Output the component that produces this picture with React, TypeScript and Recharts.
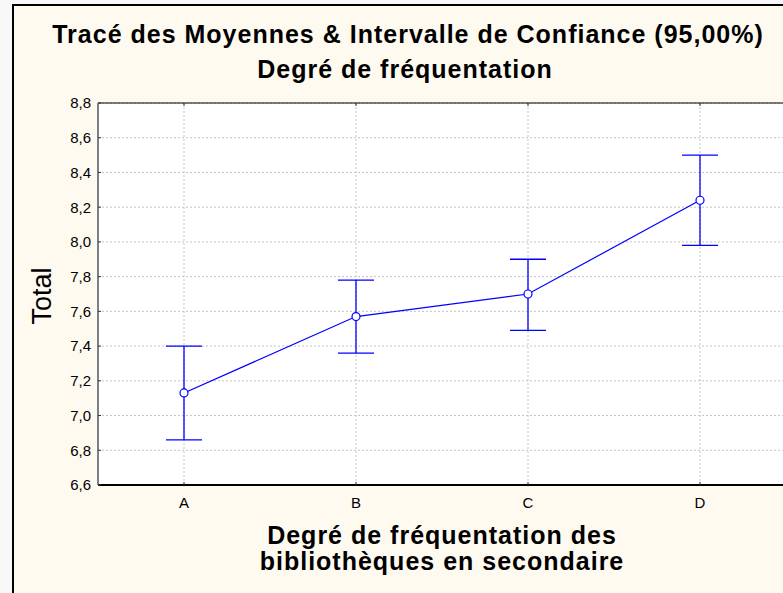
import React from 'react';
import { LineChart, Line, XAxis, YAxis, CartesianGrid, ErrorBar } from 'recharts';

const categories = ['A', 'B', 'C', 'D'];
const means = [7.13, 7.57, 7.70, 8.24];
const lowerBounds = [6.86, 7.36, 7.49, 7.98];
const upperBounds = [7.40, 7.78, 7.90, 8.50];
const yTicks = [6.6, 6.8, 7.0, 7.2, 7.4, 7.6, 7.8, 8.0, 8.2, 8.4, 8.6, 8.8];

const titleLine1 = 'Tracé des Moyennes & Intervalle de Confiance (95,00%)';
const titleLine2 = 'Degré de fréquentation';
const xLabel1 = 'Degré de fréquentation des';
const xLabel2 = 'bibliothèques en secondaire';
const yLabel = 'Total';

const data = categories.map((c, i) => ({
  cat: c,
  mean: means[i],
  err: [means[i] - lowerBounds[i], upperBounds[i] - means[i]],
}));

const FONT = '"Liberation Sans", Arial, sans-serif';
const BLUE = '#0000ff';

export default function App() {
  return (
    <div
      style={{
        position: 'fixed',
        left: 0,
        top: 0,
        width: 783,
        height: 593,
        overflow: 'hidden',
        background: '#f8f8f8',
        fontFamily: FONT,
      }}
    >
      <div
        style={{
          position: 'absolute',
          left: 12,
          top: 4,
          width: 800,
          height: 600,
          borderLeft: '2px solid #000',
          borderTop: '2px solid #000',
          background: '#fffaf0',
        }}
      />
      <div style={{ position: 'absolute', left: 0, top: 0, width: 783, height: 593, overflow: 'hidden' }}>
        <LineChart
          width={790}
          height={593}
          data={data}
          margin={{ top: 102, right: 4, bottom: 80, left: 38 }}
          style={{ fontFamily: FONT, fontSize: 15 }}
        >
          <CartesianGrid
            strokeDasharray="2 2"
            stroke="#c4c4c4"
            fill="#ffffff"
            fillOpacity={1}
          />
          <XAxis
            dataKey="cat"
            padding={{ left: 86, right: 86 }}
            height={28}
            tickSize={-3}
            tickMargin={15}
            fontSize={15}
            axisLine={{ stroke: '#000', strokeWidth: 2 }}
            tickLine={{ stroke: '#333' }}
            tick={{ fill: '#000', fontSize: 15, fontFamily: FONT }}
          />
          <XAxis
            xAxisId="top"
            orientation="top"
            dataKey="cat"
            padding={{ left: 86, right: 86 }}
            height={1}
            tickSize={-3}
            tickFormatter={() => ''}
            axisLine={{ stroke: '#000', strokeWidth: 1 }}
            tickLine={{ stroke: '#333' }}
          />
          <YAxis
            type="number"
            domain={[6.6, 8.8]}
            ticks={yTicks}
            interval={0}
            width={60}
            tickSize={-3}
            tickMargin={10}
            fontSize={15}
            axisLine={{ stroke: '#808080', strokeWidth: 2 }}
            tickLine={{ stroke: '#333' }}
            tick={{ fill: '#000', fontSize: 15, fontFamily: FONT }}
            tickFormatter={(v: number) => v.toFixed(1).replace('.', ',')}
          />
          <Line
            type="linear"
            dataKey="mean"
            stroke={BLUE}
            strokeWidth={1.2}
            dot={false}
            activeDot={false}
            isAnimationActive={false}
          >
            <ErrorBar
              dataKey="err"
              direction="y"
              width={18}
              stroke={BLUE}
              strokeWidth={1.3}
              isAnimationActive={false}
            />
          </Line>
          <Line
            type="linear"
            dataKey="mean"
            stroke="none"
            dot={{ r: 4, fill: '#ffffff', stroke: BLUE, strokeWidth: 1.2 }}
            activeDot={false}
            isAnimationActive={false}
            legendType="none"
          />
        </LineChart>
      </div>
      <svg
        width={783}
        height={593}
        style={{ position: 'absolute', left: 0, top: 0, pointerEvents: 'none' }}
      >
        <text x={408} y={43} textAnchor="middle" fontFamily={FONT} fontSize={25} fontWeight="bold" letterSpacing={1} fill="#000">
          {titleLine1}
        </text>
        <text x={405} y={78} textAnchor="middle" fontFamily={FONT} fontSize={25} fontWeight="bold" letterSpacing={1} fill="#000">
          {titleLine2}
        </text>
        <text x={442} y={544} textAnchor="middle" fontFamily={FONT} fontSize={25} fontWeight="bold" letterSpacing={1} fill="#000">
          {xLabel1}
        </text>
        <text x={442} y={570} textAnchor="middle" fontFamily={FONT} fontSize={25} fontWeight="bold" letterSpacing={1} fill="#000">
          {xLabel2}
        </text>
        <text
          transform="translate(51,296) rotate(-90)"
          textAnchor="middle"
          fontFamily={FONT}
          fontSize={27}
          fill="#000"
        >
          {yLabel}
        </text>
      </svg>
    </div>
  );
}
